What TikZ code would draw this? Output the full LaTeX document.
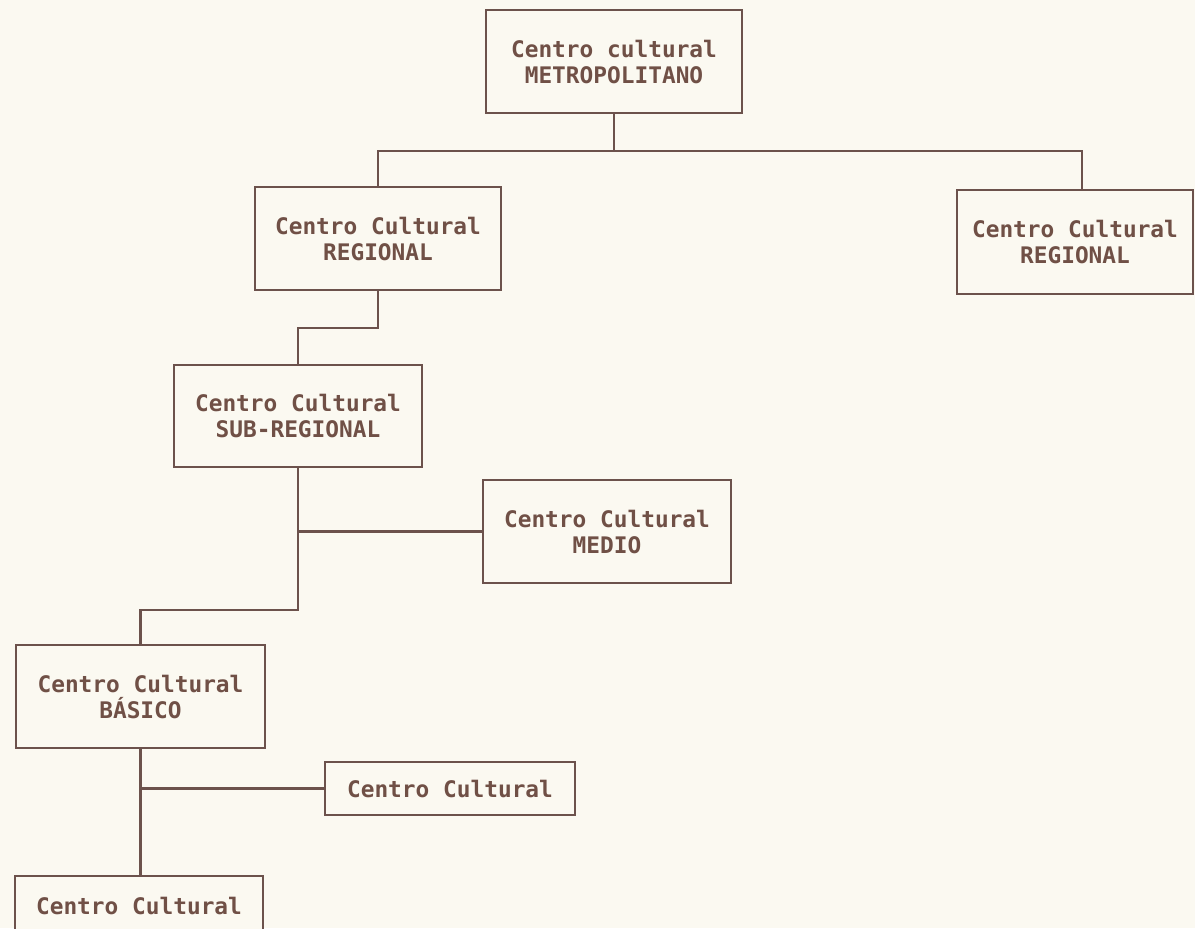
\documentclass[tikz,border=0pt]{standalone}
\usepackage{fontspec}
\newfontfamily\plotfont{DejaVu Sans Mono}
\definecolor{paper}{RGB}{251,249,241}
\definecolor{ink}{RGB}{108,82,76}
\definecolor{txt}{RGB}{112,80,70}
\begin{document}
\begin{tikzpicture}[x=0.5pt,y=-0.5pt,
  box/.style={draw=ink, line width=1.2pt, fill=paper, inner sep=0pt, align=center,
    text=txt, font=\plotfont\bfseries\fontsize{11.4}{13}\selectfont},
  link/.style={draw=ink, line width=1.2pt}]
\useasboundingbox (0,0) rectangle (1195,928);
\fill[paper] (0,0) rectangle (1195,928);
\clip (0,0) rectangle (1195,928);
% nodes
\node[box, minimum width=128pt, minimum height=51.5pt] (top) at (614,61.5) {Centro cultural\\METROPOLITANO};
\node[box, minimum width=123pt, minimum height=51.5pt] (regL) at (378,238.5) {Centro Cultural\\REGIONAL};
\node[box, minimum width=118pt, minimum height=52pt] (regR) at (1075,242) {Centro Cultural\\REGIONAL};
\node[box, minimum width=124pt, minimum height=51pt] (subR) at (298,416) {Centro Cultural\\SUB-REGIONAL};
\node[box, minimum width=124pt, minimum height=51.5pt] (medio) at (607,531.5) {Centro Cultural\\MEDIO};
\node[box, minimum width=124.5pt, minimum height=51.5pt] (bas) at (140.5,696.5) {Centro Cultural\\BÁSICO};
\node[box, minimum width=125pt, minimum height=26.5pt] (small) at (450,788.5) {Centro Cultural};
\node[box, minimum width=124pt, minimum height=29.5pt] (bot) at (139,905.5) {Centro Cultural};
% connectors
\coordinate (bus) at (614,151);
\draw[link] (top.south) -- (bus);
\draw[link] (regL.north) |- (bus) -| ([xshift=3.5pt]regR.north);
\draw[link] (regL.south) -- ++(0,37) -| (subR.north);
\draw[link] (subR.south) -- ++(0,142) -| (bas.north);
\draw[link] (medio.west) -- (medio.west -| subR.south);
\draw[link] (bas.south) -- (bas.south |- bot.north);
\draw[link] (small.west) -- (small.west -| bas.south);
\end{tikzpicture}
\end{document}
